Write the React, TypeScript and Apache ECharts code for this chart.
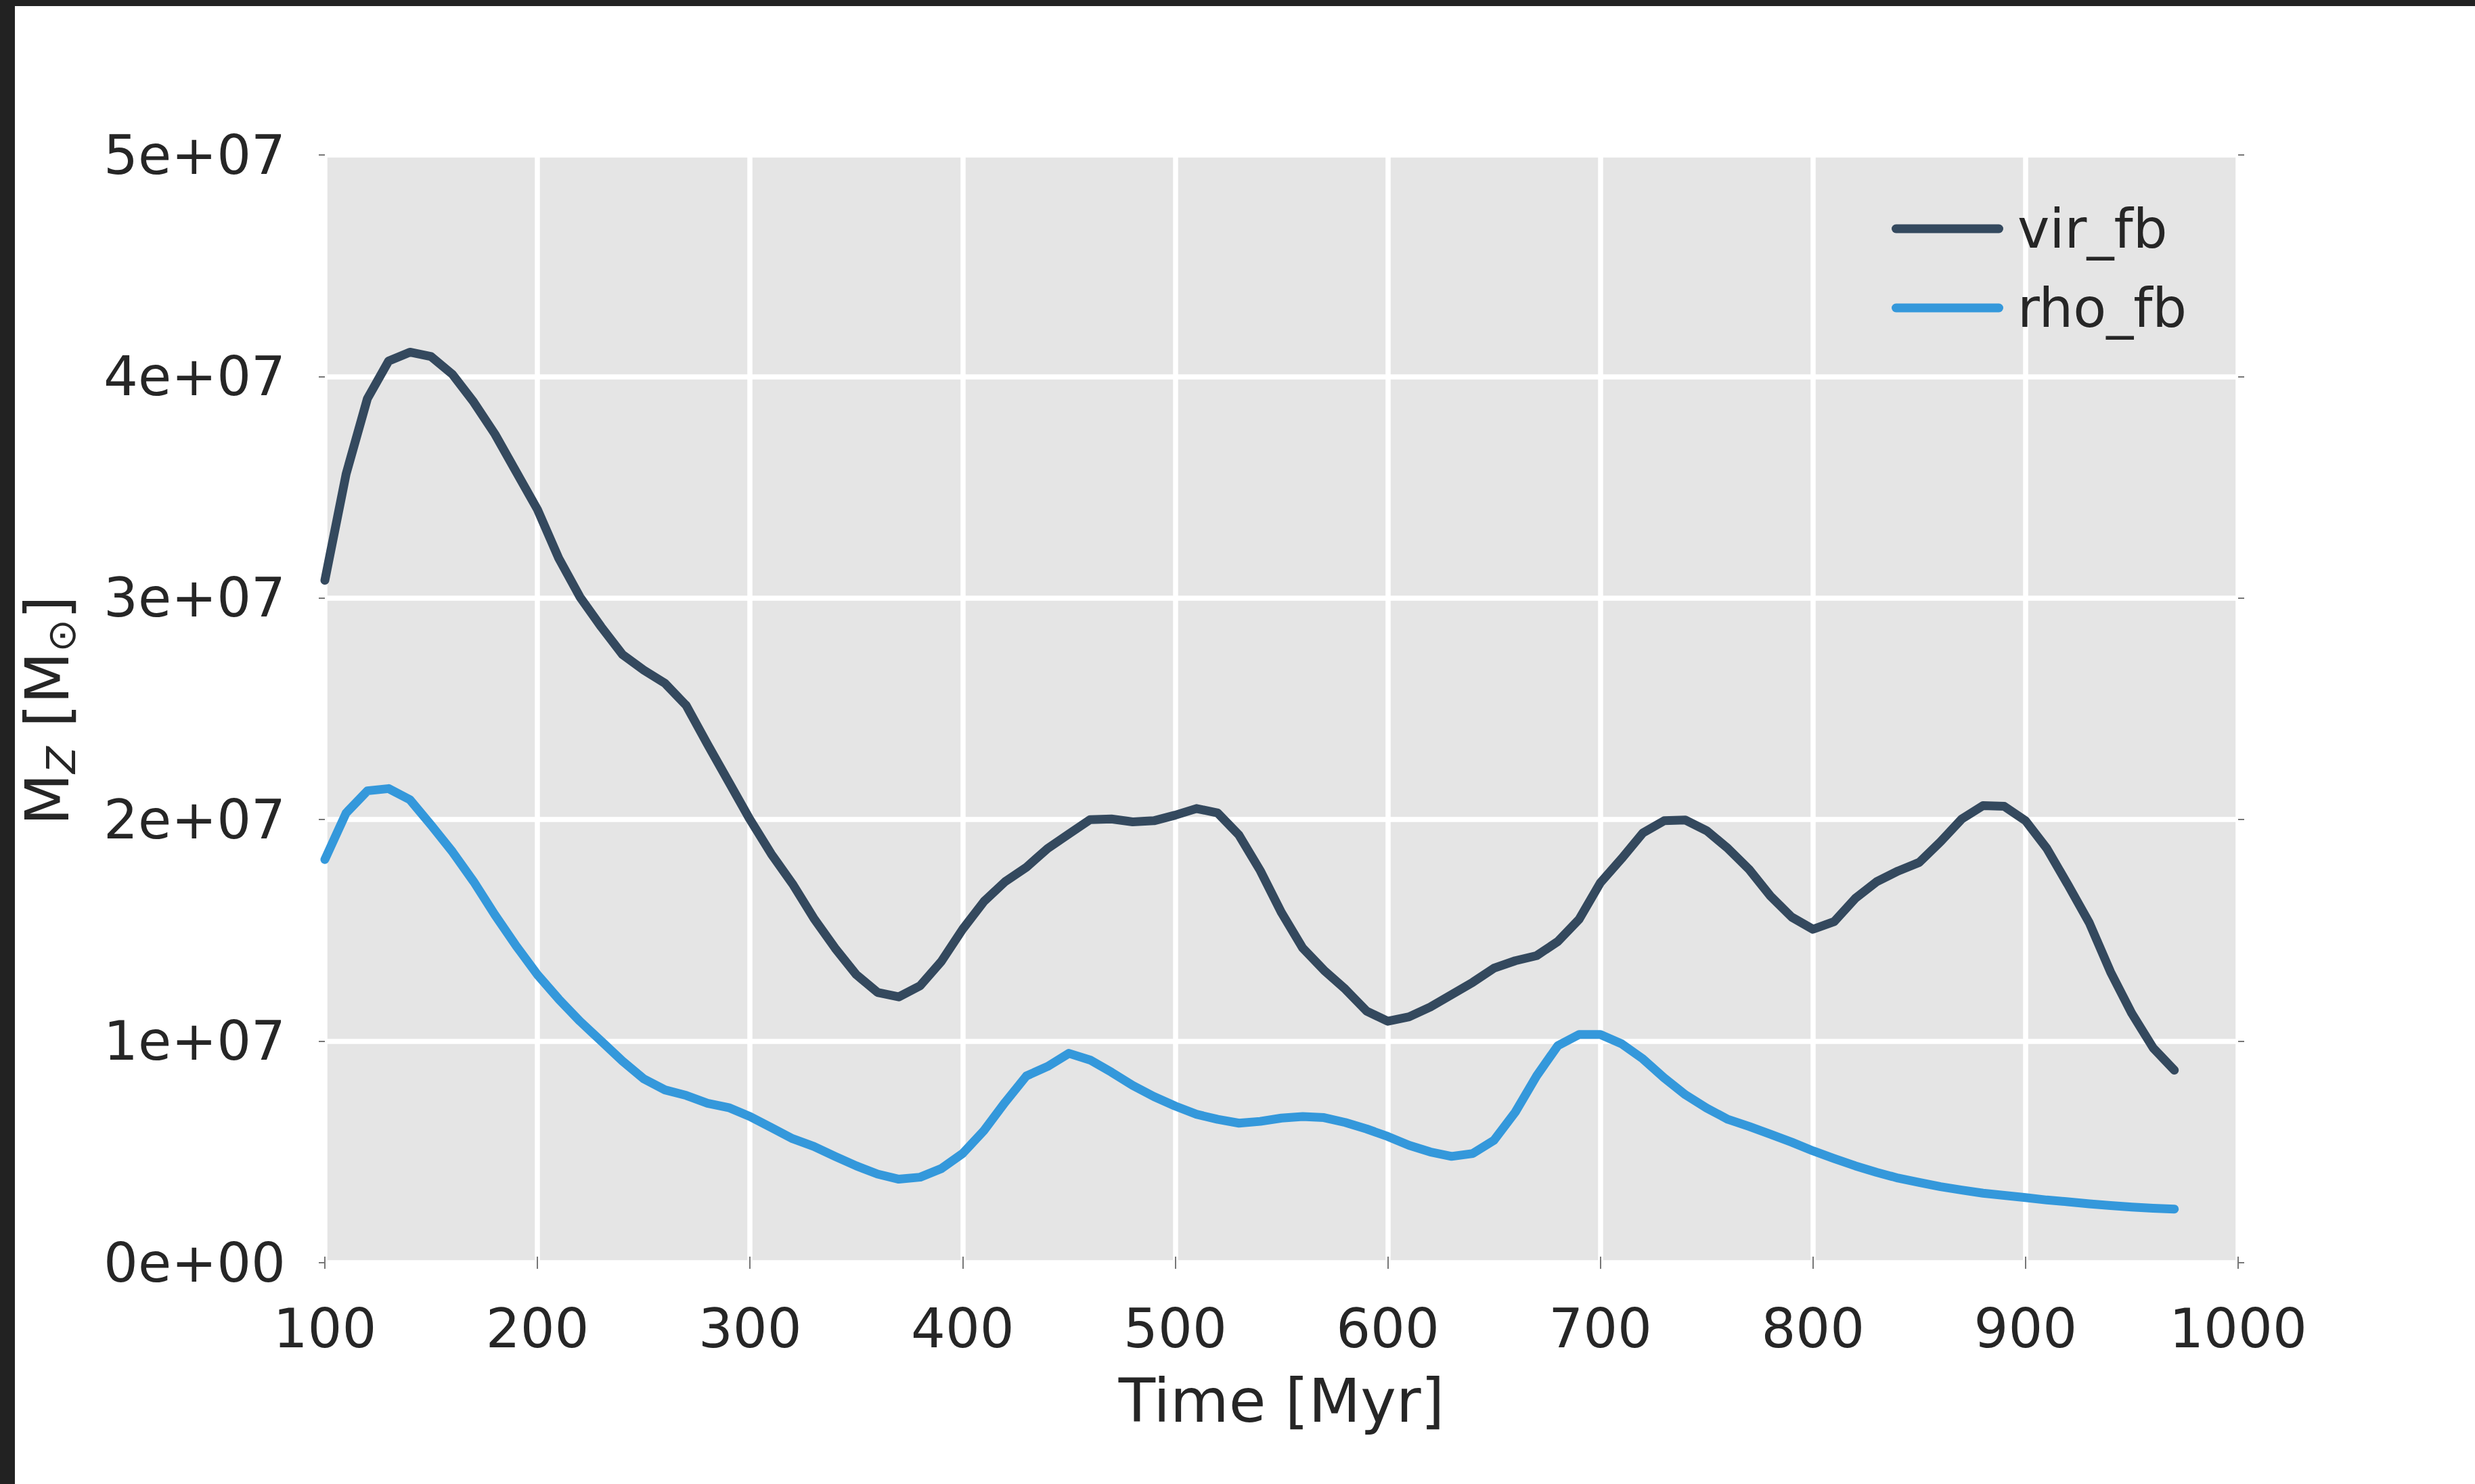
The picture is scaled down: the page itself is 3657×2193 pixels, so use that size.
import React, { useEffect, useRef } from "react";
import * as echarts from "echarts";

const TIMES = [
  100, 110, 120, 130, 140, 150, 160, 170, 180, 190,
  200, 210, 220, 230, 240, 250, 260, 270, 280, 290,
  300, 310, 320, 330, 340, 350, 360, 370, 380, 390,
  400, 410, 420, 430, 440, 450, 460, 470, 480, 490,
  500, 510, 520, 530, 540, 550, 560, 570, 580, 590,
  600, 610, 620, 630, 640, 650, 660, 670, 680, 690,
  700, 710, 720, 730, 740, 750, 760, 770, 780, 790,
  800, 810, 820, 830, 840, 850, 860, 870, 880, 890,
  900, 910, 920, 930, 940, 950, 960, 970,
];

const VIR_FB = [
  3.08e7, 3.56e7, 3.9e7, 4.07e7, 4.11e7, 4.09e7, 4.01e7, 3.885e7, 3.74e7, 3.57e7,
  3.4e7, 3.18e7, 3.005e7, 2.87e7, 2.745e7, 2.675e7, 2.615e7, 2.515e7, 2.34e7, 2.17e7,
  2.0e7, 1.845e7, 1.71e7, 1.555e7, 1.42e7, 1.3e7, 1.22e7, 1.2e7, 1.25e7, 1.36e7,
  1.505e7, 1.63e7, 1.72e7, 1.785e7, 1.87e7, 1.935e7, 2.0e7, 2.003e7, 1.99e7, 1.995e7,
  2.02e7, 2.05e7, 2.03e7, 1.93e7, 1.77e7, 1.58e7, 1.42e7, 1.32e7, 1.235e7, 1.136e7,
  1.09e7, 1.11e7, 1.154e7, 1.21e7, 1.266e7, 1.33e7, 1.363e7, 1.386e7, 1.45e7, 1.55e7,
  1.715e7, 1.824e7, 1.94e7, 1.995e7, 1.998e7, 1.95e7, 1.87e7, 1.775e7, 1.655e7, 1.56e7,
  1.505e7, 1.54e7, 1.645e7, 1.72e7, 1.768e7, 1.807e7, 1.9e7, 2.003e7, 2.063e7, 2.06e7,
  1.995e7, 1.87e7, 1.705e7, 1.534e7, 1.312e7, 1.125e7, 0.97e7, 0.869e7,
];

const RHO_FB = [
  1.82e7, 2.03e7, 2.13e7, 2.14e7, 2.09e7, 1.975e7, 1.855e7, 1.72e7, 1.57e7, 1.43e7,
  1.3e7, 1.19e7, 1.09e7, 1.0e7, 0.91e7, 0.83e7, 0.78e7, 0.755e7, 0.72e7, 0.7e7,
  0.66e7, 0.61e7, 0.56e7, 0.525e7, 0.48e7, 0.437e7, 0.4e7, 0.377e7, 0.386e7, 0.425e7,
  0.493e7, 0.596e7, 0.724e7, 0.843e7, 0.886e7, 0.945e7, 0.915e7, 0.86e7, 0.8e7, 0.75e7,
  0.707e7, 0.67e7, 0.647e7, 0.63e7, 0.638e7, 0.653e7, 0.66e7, 0.655e7, 0.633e7, 0.604e7,
  0.57e7, 0.53e7, 0.5e7, 0.48e7, 0.493e7, 0.553e7, 0.68e7, 0.843e7, 0.98e7, 1.03e7,
  1.03e7, 0.988e7, 0.92e7, 0.834e7, 0.758e7, 0.698e7, 0.647e7, 0.615e7, 0.58e7, 0.544e7,
  0.505e7, 0.47e7, 0.437e7, 0.408e7, 0.382e7, 0.362e7, 0.343e7, 0.328e7, 0.314e7, 0.304e7,
  0.294e7, 0.283e7, 0.275e7, 0.266e7, 0.258e7, 0.251e7, 0.246e7, 0.242e7,
];

const SERIES_NAMES = ["vir_fb", "rho_fb"];
const SERIES_COLORS = ["#34495e", "#3498db"];

const X_MIN = 100;
const X_MAX = 1000;
const X_STEP = 100;
const Y_MIN = 0;
const Y_MAX = 5e7;
const Y_STEP = 1e7;

const X_TITLE = "Time [Myr]";

const W = 3657;
const H = 2193;
const FONT = "DejaVu Sans";
const TEXT = "#262626";

function sciLabel(v: number): string {
  if (v === 0) return "0e+00";
  const e = Math.floor(Math.log10(Math.abs(v)) + 1e-9);
  const m = Math.round(v / Math.pow(10, e));
  return `${m}e${e >= 0 ? "+" : "-"}${String(Math.abs(e)).padStart(2, "0")}`;
}

export default function App() {
  const ref = useRef<HTMLDivElement>(null);

  useEffect(() => {
    if (!ref.current) return;
    const chart = echarts.init(ref.current, undefined, { renderer: "svg" });

    const grid = { left: 480, right: W - 3307, top: 229, bottom: H - 1866 };
    const tickStyle = { show: true, inside: false, length: 9, lineStyle: { color: "#777", width: 2 } };

    const seriesData = [VIR_FB, RHO_FB];

    const option: any = {
      animation: false,
      backgroundColor: "#ffffff",
      grid: { ...grid, show: true, backgroundColor: "#e5e5e5", borderWidth: 0 },
      xAxis: [
        {
          type: "value",
          min: X_MIN,
          max: X_MAX,
          interval: X_STEP,
          position: "bottom",
          axisLine: { show: false },
          axisTick: tickStyle,
          splitLine: { show: true, lineStyle: { color: "#ffffff", width: 7.5 } },
          axisLabel: {
            fontSize: 80,
            color: TEXT,
            fontFamily: FONT,
            margin: 57,
            formatter: (v: number) => String(v),
          },
          name: X_TITLE,
          nameLocation: "middle",
          nameGap: 159,
          nameTextStyle: { fontSize: 89, color: TEXT, fontFamily: FONT },
        },
        {
          type: "value",
          min: X_MIN,
          max: X_MAX,
          interval: X_STEP,
          position: "top",
          axisLine: { show: false },
          axisTick: tickStyle,
          splitLine: { show: false },
          axisLabel: { show: false },
        },
      ],
      yAxis: [
        {
          type: "value",
          min: Y_MIN,
          max: Y_MAX,
          interval: Y_STEP,
          position: "left",
          axisLine: { show: false },
          axisTick: tickStyle,
          splitLine: { show: true, lineStyle: { color: "#ffffff", width: 7.5 } },
          axisLabel: {
            fontSize: 80,
            color: TEXT,
            fontFamily: FONT,
            margin: 58,
            formatter: (v: number) => sciLabel(v),
          },
        },
        {
          type: "value",
          min: Y_MIN,
          max: Y_MAX,
          interval: Y_STEP,
          position: "right",
          axisLine: { show: false },
          axisTick: tickStyle,
          splitLine: { show: false },
          axisLabel: { show: false },
        },
      ],
      legend: {
        data: SERIES_NAMES,
        orient: "vertical",
        left: 2790,
        top: 288,
        itemWidth: 165,
        itemHeight: 13,
        itemGap: 27,
        icon: "path://M6.5,0 H158.5 A6.5,6.5 0 0 1 158.5,13 H6.5 A6.5,6.5 0 0 1 6.5,0 Z",
        textStyle: {
          fontSize: 80,
          color: TEXT,
          fontFamily: FONT,
          lineHeight: 90,
          padding: [0, 0, 0, 16],
        },
      },
      graphic: [
        {
          type: "text",
          x: 70,
          y: 1050,
          rotation: Math.PI / 2,
          style: {
            text: "{m|M}{s|Z}{m| [M}{o|⊙}{m|]}",
            align: "center",
            verticalAlign: "middle",
            textAlign: "center",
            textVerticalAlign: "middle",
            fill: TEXT,
            rich: {
              m: { fontSize: 89, fontFamily: FONT, fill: TEXT, color: TEXT, lineHeight: 100, verticalAlign: "middle" },
              s: { fontSize: 58, fontFamily: FONT, fontStyle: "italic", fill: TEXT, color: TEXT, lineHeight: 60, verticalAlign: "bottom" },
              o: { fontSize: 58, fontFamily: FONT, fill: TEXT, color: TEXT, lineHeight: 60, verticalAlign: "bottom" },
            },
          },
        },
        { type: "rect", shape: { x: 0, y: 0, width: W, height: 9 }, style: { fill: "#222222" }, z: 100 },
        { type: "rect", shape: { x: 0, y: 0, width: 22, height: H }, style: { fill: "#222222" }, z: 100 },
      ],
      series: SERIES_NAMES.map((name, i) => ({
        name,
        type: "line",
        xAxisIndex: 0,
        yAxisIndex: 0,
        data: TIMES.map((t, j) => [t, seriesData[i][j]]),
        showSymbol: false,
        symbol: "none",
        clip: true,
        color: SERIES_COLORS[i],
        lineStyle: { color: SERIES_COLORS[i], width: 13, cap: "round", join: "round" },
        itemStyle: { color: SERIES_COLORS[i] },
        z: 3,
      })),
    };

    chart.setOption(option);
    return () => chart.dispose();
  }, []);

  return (
    <div
      ref={ref}
      style={{ position: "fixed", left: 0, top: 0, width: W, height: H, background: "#fff" }}
    />
  );
}
